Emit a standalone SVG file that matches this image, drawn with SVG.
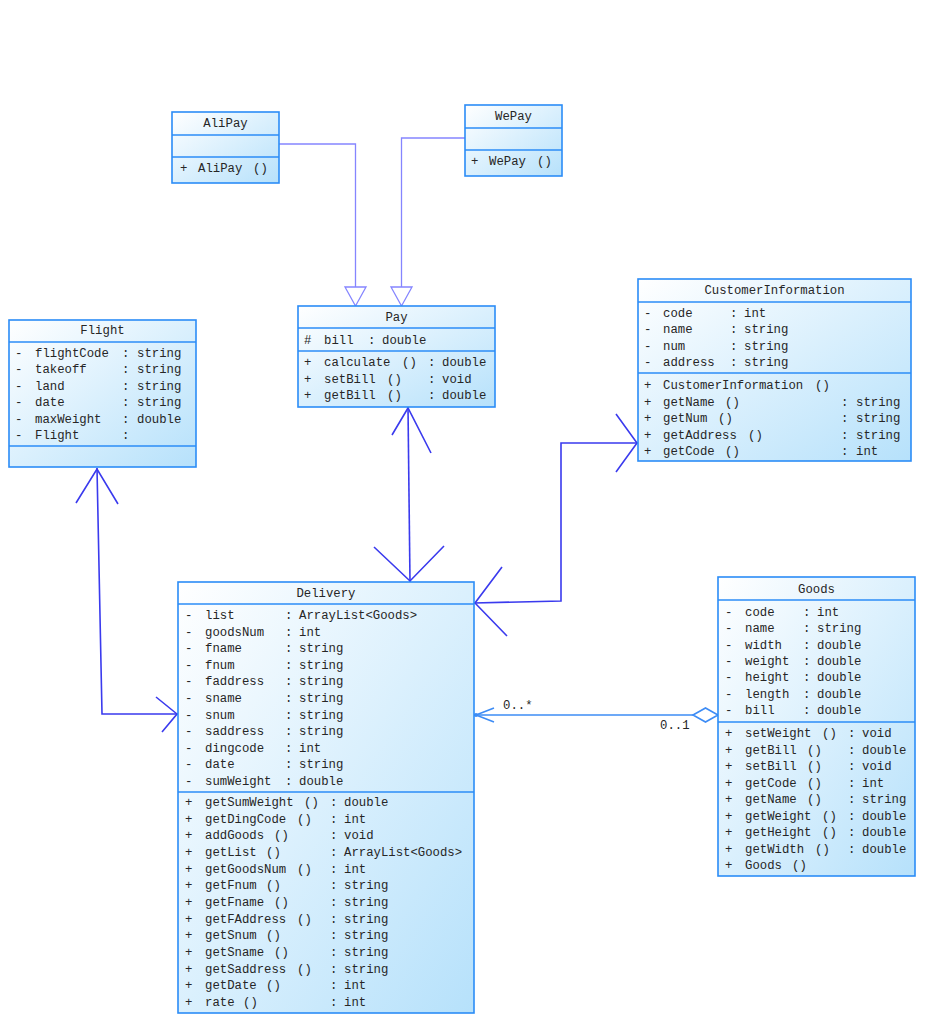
<svg xmlns="http://www.w3.org/2000/svg" width="944" height="1031" viewBox="0 0 944 1031">
<defs>
<linearGradient id="fill" x1="0" y1="0" x2="1" y2="1">
<stop offset="0" stop-color="#ffffff"/>
<stop offset="1" stop-color="#b6e1fb"/>
</linearGradient>
<style>
.box{fill:url(#fill);stroke:#2b8cf7;stroke-width:1.6}
.div{stroke:#2b8cf7;stroke-width:1.6}
text{font-family:"Liberation Mono","DejaVu Sans Mono",monospace;font-size:12.3px;fill:#262626}
.h{text-anchor:middle}
.assoc{fill:none;stroke:#3a3aee;stroke-width:1.6}
.gen{fill:none;stroke:#8585ff;stroke-width:1.3}
.tri{fill:#ffffff;stroke:#8585ff;stroke-width:1.3}
.agg{fill:none;stroke:#3d8cf5;stroke-width:1.6}
.dia{fill:#ffffff;stroke:#3d8cf5;stroke-width:1.6}
</style>
</defs>
<rect width="944" height="1031" fill="#ffffff"/>

<g id="connectors">
<!-- AliPay -> Pay generalization -->
<polyline class="gen" points="279,144 355.5,144 355.5,287"/>
<polygon class="tri" points="345,287 366,287 355.5,306"/>
<!-- WePay -> Pay generalization -->
<polyline class="gen" points="465,138 401.5,138 401.5,287"/>
<polygon class="tri" points="391,287 412,287 401.5,306"/>
<!-- Pay - Delivery -->
<line class="assoc" x1="408" y1="407" x2="410" y2="582"/>
<polyline class="assoc" points="392,435 408,408 431,453"/>
<polyline class="assoc" points="374,547 410,581 444,546"/>
<!-- Delivery - CustomerInformation -->
<polyline class="assoc" points="474,603 561,601 561,443 638,443"/>
<polyline class="assoc" points="616,414 637,443 616,472"/>
<polyline class="assoc" points="502,567 475,603 507,636"/>
<!-- Flight - Delivery -->
<polyline class="assoc" points="97,468 102,714 178,714"/>
<polyline class="assoc" points="76,503 97,469 118,504"/>
<polyline class="assoc" points="156,697 177,714 162,732"/>
<!-- Goods - Delivery aggregation -->
<line class="agg" x1="475" y1="715" x2="693" y2="715"/>
<polygon class="dia" points="693,715 705.5,708 718,715 705.5,722"/>
<polyline class="agg" points="494,708 476,715 494,722"/>
<circle cx="476" cy="715" r="2" fill="#3d8cf5"/>
<text x="503" y="709">0..*</text>
<text x="660" y="729">0..1</text>
</g>

<g id="AliPay">
<rect class="box" x="172" y="112" width="107" height="71"/>
<line class="div" x1="172" y1="135" x2="279" y2="135"/>
<line class="div" x1="172" y1="157" x2="279" y2="157"/>
<text class="h" x="225.5" y="127">AliPay</text>
<text x="180" y="172">+</text><text x="198" y="172">AliPay</text><text x="253" y="172">()</text>
</g>

<g id="WePay">
<rect class="box" x="465" y="105" width="97" height="71"/>
<line class="div" x1="465" y1="128" x2="562" y2="128"/>
<line class="div" x1="465" y1="150" x2="562" y2="150"/>
<text class="h" x="513.5" y="120">WePay</text>
<text x="471" y="165">+</text><text x="489" y="165">WePay</text><text x="537" y="165">()</text>
</g>

<g id="Pay">
<rect class="box" x="298" y="306" width="197" height="101"/>
<line class="div" x1="298" y1="328" x2="495" y2="328"/>
<line class="div" x1="298" y1="351" x2="495" y2="351"/>
<text class="h" x="396.5" y="321">Pay</text>
<text x="304" y="344">#</text><text x="324" y="344">bill</text><text x="368" y="344">:</text><text x="382" y="344">double</text>
<text x="304" y="366">+</text><text x="324" y="366">calculate</text><text x="402" y="366">()</text><text x="428" y="366">:</text><text x="442" y="366">double</text>
<text x="304" y="382.5">+</text><text x="324" y="382.5">setBill</text><text x="387" y="382.5">()</text><text x="428" y="382.5">:</text><text x="442" y="382.5">void</text>
<text x="304" y="399">+</text><text x="324" y="399">getBill</text><text x="387" y="399">()</text><text x="428" y="399">:</text><text x="442" y="399">double</text>
</g>

<g id="Flight">
<rect class="box" x="9" y="320" width="187" height="147"/>
<line class="div" x1="9" y1="342" x2="196" y2="342"/>
<line class="div" x1="9" y1="446" x2="196" y2="446"/>
<text class="h" x="102.5" y="334">Flight</text>
<text x="15" y="357">-</text><text x="35" y="357">flightCode</text><text x="122" y="357">:</text><text x="137" y="357">string</text>
<text x="15" y="373.4">-</text><text x="35" y="373.4">takeoff</text><text x="122" y="373.4">:</text><text x="137" y="373.4">string</text>
<text x="15" y="389.8">-</text><text x="35" y="389.8">land</text><text x="122" y="389.8">:</text><text x="137" y="389.8">string</text>
<text x="15" y="406.2">-</text><text x="35" y="406.2">date</text><text x="122" y="406.2">:</text><text x="137" y="406.2">string</text>
<text x="15" y="422.6">-</text><text x="35" y="422.6">maxWeight</text><text x="122" y="422.6">:</text><text x="137" y="422.6">double</text>
<text x="15" y="439">-</text><text x="35" y="439">Flight</text><text x="122" y="439">:</text>
</g>

<g id="CustomerInformation">
<rect class="box" x="638" y="279" width="273" height="182"/>
<line class="div" x1="638" y1="302" x2="911" y2="302"/>
<line class="div" x1="638" y1="373" x2="911" y2="373"/>
<text class="h" x="774.5" y="294">CustomerInformation</text>
<text x="644" y="317">-</text><text x="663" y="317">code</text><text x="730" y="317">:</text><text x="744" y="317">int</text>
<text x="644" y="333.3">-</text><text x="663" y="333.3">name</text><text x="730" y="333.3">:</text><text x="744" y="333.3">string</text>
<text x="644" y="349.6">-</text><text x="663" y="349.6">num</text><text x="730" y="349.6">:</text><text x="744" y="349.6">string</text>
<text x="644" y="366">-</text><text x="663" y="366">address</text><text x="730" y="366">:</text><text x="744" y="366">string</text>
<text x="644" y="389">+</text><text x="663" y="389">CustomerInformation</text><text x="815" y="389">()</text>
<text x="644" y="405.5">+</text><text x="663" y="405.5">getName</text><text x="725" y="405.5">()</text><text x="841" y="405.5">:</text><text x="856" y="405.5">string</text>
<text x="644" y="422">+</text><text x="663" y="422">getNum</text><text x="718" y="422">()</text><text x="841" y="422">:</text><text x="856" y="422">string</text>
<text x="644" y="438.5">+</text><text x="663" y="438.5">getAddress</text><text x="748" y="438.5">()</text><text x="841" y="438.5">:</text><text x="856" y="438.5">string</text>
<text x="644" y="455">+</text><text x="663" y="455">getCode</text><text x="725" y="455">()</text><text x="841" y="455">:</text><text x="856" y="455">int</text>
</g>

<g id="Delivery">
<rect class="box" x="178" y="582" width="296" height="431"/>
<line class="div" x1="178" y1="604" x2="474" y2="604"/>
<line class="div" x1="178" y1="792" x2="474" y2="792"/>
<text class="h" x="326" y="597">Delivery</text>
<text x="185" y="619">-</text><text x="205" y="619">list</text><text x="285" y="619">:</text><text x="299" y="619">ArrayList&lt;Goods&gt;</text>
<text x="185" y="635.6">-</text><text x="205" y="635.6">goodsNum</text><text x="285" y="635.6">:</text><text x="299" y="635.6">int</text>
<text x="185" y="652.2">-</text><text x="205" y="652.2">fname</text><text x="285" y="652.2">:</text><text x="299" y="652.2">string</text>
<text x="185" y="668.8">-</text><text x="205" y="668.8">fnum</text><text x="285" y="668.8">:</text><text x="299" y="668.8">string</text>
<text x="185" y="685.4">-</text><text x="205" y="685.4">faddress</text><text x="285" y="685.4">:</text><text x="299" y="685.4">string</text>
<text x="185" y="702">-</text><text x="205" y="702">sname</text><text x="285" y="702">:</text><text x="299" y="702">string</text>
<text x="185" y="718.6">-</text><text x="205" y="718.6">snum</text><text x="285" y="718.6">:</text><text x="299" y="718.6">string</text>
<text x="185" y="735.2">-</text><text x="205" y="735.2">saddress</text><text x="285" y="735.2">:</text><text x="299" y="735.2">string</text>
<text x="185" y="751.8">-</text><text x="205" y="751.8">dingcode</text><text x="285" y="751.8">:</text><text x="299" y="751.8">int</text>
<text x="185" y="768.4">-</text><text x="205" y="768.4">date</text><text x="285" y="768.4">:</text><text x="299" y="768.4">string</text>
<text x="185" y="785">-</text><text x="205" y="785">sumWeight</text><text x="285" y="785">:</text><text x="299" y="785">double</text>
<text x="185" y="806">+</text><text x="205" y="806">getSumWeight</text><text x="304" y="806">()</text><text x="330" y="806">:</text><text x="344" y="806">double</text>
<text x="185" y="822.7">+</text><text x="205" y="822.7">getDingCode</text><text x="297" y="822.7">()</text><text x="330" y="822.7">:</text><text x="344" y="822.7">int</text>
<text x="185" y="839.3">+</text><text x="205" y="839.3">addGoods</text><text x="274" y="839.3">()</text><text x="330" y="839.3">:</text><text x="344" y="839.3">void</text>
<text x="185" y="856">+</text><text x="205" y="856">getList</text><text x="266" y="856">()</text><text x="330" y="856">:</text><text x="344" y="856">ArrayList&lt;Goods&gt;</text>
<text x="185" y="872.7">+</text><text x="205" y="872.7">getGoodsNum</text><text x="297" y="872.7">()</text><text x="330" y="872.7">:</text><text x="344" y="872.7">int</text>
<text x="185" y="889.3">+</text><text x="205" y="889.3">getFnum</text><text x="266" y="889.3">()</text><text x="330" y="889.3">:</text><text x="344" y="889.3">string</text>
<text x="185" y="906">+</text><text x="205" y="906">getFname</text><text x="274" y="906">()</text><text x="330" y="906">:</text><text x="344" y="906">string</text>
<text x="185" y="922.7">+</text><text x="205" y="922.7">getFAddress</text><text x="297" y="922.7">()</text><text x="330" y="922.7">:</text><text x="344" y="922.7">string</text>
<text x="185" y="939.3">+</text><text x="205" y="939.3">getSnum</text><text x="266" y="939.3">()</text><text x="330" y="939.3">:</text><text x="344" y="939.3">string</text>
<text x="185" y="956">+</text><text x="205" y="956">getSname</text><text x="274" y="956">()</text><text x="330" y="956">:</text><text x="344" y="956">string</text>
<text x="185" y="972.7">+</text><text x="205" y="972.7">getSaddress</text><text x="297" y="972.7">()</text><text x="330" y="972.7">:</text><text x="344" y="972.7">string</text>
<text x="185" y="989.3">+</text><text x="205" y="989.3">getDate</text><text x="266" y="989.3">()</text><text x="330" y="989.3">:</text><text x="344" y="989.3">int</text>
<text x="185" y="1006">+</text><text x="205" y="1006">rate</text><text x="243" y="1006">()</text><text x="330" y="1006">:</text><text x="344" y="1006">int</text>
</g>

<g id="Goods">
<rect class="box" x="718" y="577" width="197" height="299"/>
<line class="div" x1="718" y1="600" x2="915" y2="600"/>
<line class="div" x1="718" y1="722" x2="915" y2="722"/>
<text class="h" x="816.5" y="593">Goods</text>
<text x="725" y="616">-</text><text x="745" y="616">code</text><text x="803" y="616">:</text><text x="817" y="616">int</text>
<text x="725" y="632.3">-</text><text x="745" y="632.3">name</text><text x="803" y="632.3">:</text><text x="817" y="632.3">string</text>
<text x="725" y="648.7">-</text><text x="745" y="648.7">width</text><text x="803" y="648.7">:</text><text x="817" y="648.7">double</text>
<text x="725" y="665">-</text><text x="745" y="665">weight</text><text x="803" y="665">:</text><text x="817" y="665">double</text>
<text x="725" y="681.3">-</text><text x="745" y="681.3">height</text><text x="803" y="681.3">:</text><text x="817" y="681.3">double</text>
<text x="725" y="697.7">-</text><text x="745" y="697.7">length</text><text x="803" y="697.7">:</text><text x="817" y="697.7">double</text>
<text x="725" y="714">-</text><text x="745" y="714">bill</text><text x="803" y="714">:</text><text x="817" y="714">double</text>
<text x="725" y="737">+</text><text x="745" y="737">setWeight</text><text x="822" y="737">()</text><text x="848" y="737">:</text><text x="862" y="737">void</text>
<text x="725" y="753.5">+</text><text x="745" y="753.5">getBill</text><text x="807" y="753.5">()</text><text x="848" y="753.5">:</text><text x="862" y="753.5">double</text>
<text x="725" y="770">+</text><text x="745" y="770">setBill</text><text x="807" y="770">()</text><text x="848" y="770">:</text><text x="862" y="770">void</text>
<text x="725" y="786.5">+</text><text x="745" y="786.5">getCode</text><text x="807" y="786.5">()</text><text x="848" y="786.5">:</text><text x="862" y="786.5">int</text>
<text x="725" y="803">+</text><text x="745" y="803">getName</text><text x="807" y="803">()</text><text x="848" y="803">:</text><text x="862" y="803">string</text>
<text x="725" y="819.5">+</text><text x="745" y="819.5">getWeight</text><text x="822" y="819.5">()</text><text x="848" y="819.5">:</text><text x="862" y="819.5">double</text>
<text x="725" y="836">+</text><text x="745" y="836">getHeight</text><text x="822" y="836">()</text><text x="848" y="836">:</text><text x="862" y="836">double</text>
<text x="725" y="852.5">+</text><text x="745" y="852.5">getWidth</text><text x="815" y="852.5">()</text><text x="848" y="852.5">:</text><text x="862" y="852.5">double</text>
<text x="725" y="869">+</text><text x="745" y="869">Goods</text><text x="792" y="869">()</text>
</g>
</svg>
